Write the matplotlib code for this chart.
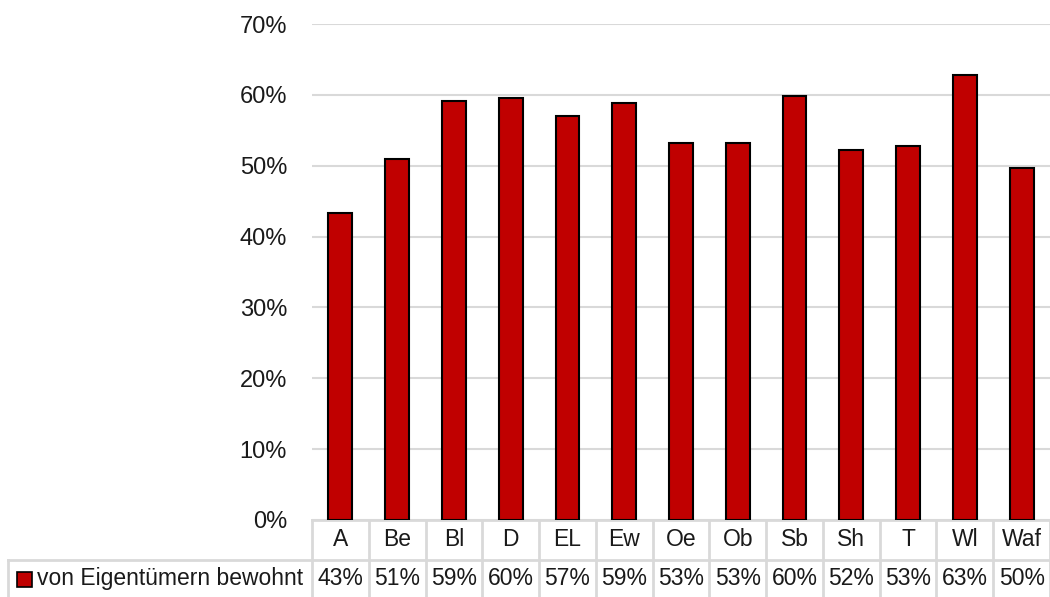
import matplotlib.pyplot as plt
from matplotlib import font_manager
from matplotlib.patches import Rectangle
import matplotlib.transforms as mtransforms

# Daten
categories = ['A', 'Be', 'Bl', 'D', 'EL', 'Ew', 'Oe', 'Ob', 'Sb', 'Sh', 'T', 'Wl', 'Waf']
values = [0.433, 0.509, 0.591, 0.596, 0.570, 0.588, 0.532, 0.532, 0.598, 0.522, 0.528, 0.628, 0.497]
value_labels = ['43%', '51%', '59%', '60%', '57%', '59%', '53%', '53%', '60%', '52%', '53%', '63%', '50%']
series_name = 'von Eigentümern bewohnt'
yticks = [0, 0.1, 0.2, 0.3, 0.4, 0.5, 0.6, 0.7]

names = {f.name for f in font_manager.fontManager.ttflist}
fam = 'Liberation Sans Narrow' if 'Liberation Sans Narrow' in names else 'Liberation Sans'
plt.rcParams['font.family'] = [fam, 'DejaVu Sans']

bar_color = '#c00000'
grid_color = '#d9d9d9'
text_color = '#1a1a1a'
fs = 16.5

fig = plt.figure(figsize=(10.5, 5.97), dpi=100)
ax = fig.add_axes([312 / 1050, 1 - 520 / 597, 738 / 1050, 496 / 597])

x = list(range(len(categories)))
ax.bar(x, values, width=0.42, color=bar_color, edgecolor='black', linewidth=1.5, zorder=3)

ax.set_xlim(-0.5, len(categories) - 0.5)
ax.set_ylim(0, 0.7)
ax.set_yticks(yticks)
ax.set_yticklabels([f'{int(round(v * 100))}%' for v in yticks], fontsize=fs + 0.5, color=text_color)
ax.tick_params(axis='y', length=0, pad=18)
ax.set_xticks([])
ax.grid(axis='y', color=grid_color, linewidth=1.5, zorder=0)
for s in ax.spines.values():
    s.set_visible(False)

# Datentabelle unter dem Diagramm
trans = mtransforms.blended_transform_factory(ax.transData, ax.transAxes)
row_h = 40 / 496
row2 = 37 / 496
y_top = 0
y_mid = -row_h
y_bot = -row_h - row2

line_kw = dict(color=grid_color, linewidth=2, clip_on=False, transform=trans, zorder=1)
ax.plot([-0.5, len(categories) - 0.5], [y_top, y_top], **line_kw)
ax.plot([-0.5, len(categories) - 0.5], [y_mid, y_mid], **line_kw)
for i in range(len(categories) + 1):
    ax.plot([i - 0.5, i - 0.5], [y_top, y_bot], **line_kw)

for i, (c, lab) in enumerate(zip(categories, value_labels)):
    ax.text(i, (y_top + y_mid) / 2, c, ha='center', va='center', fontsize=fs,
            color=text_color, transform=trans)
    ax.text(i, (y_mid + y_bot) / 2, lab, ha='center', va='center', fontsize=fs,
            color=text_color, transform=trans)

# Legendenzelle links
fig_y_mid = 1 - 560 / 597
fig.add_artist(plt.Line2D([8 / 1050, 312 / 1050], [fig_y_mid, fig_y_mid],
                          color=grid_color, linewidth=2))
fig.add_artist(plt.Line2D([8 / 1050, 8 / 1050], [fig_y_mid, 0],
                          color=grid_color, linewidth=2))
fig.add_artist(Rectangle((17 / 1050, 1 - 587 / 597), 15 / 1050, 15 / 597,
                         facecolor=bar_color, edgecolor='black', linewidth=1.2))
fig.text(37 / 1050, 1 - 578 / 597, series_name, ha='left', va='center',
         fontsize=fs, color=text_color)

fig.savefig('out.png', dpi=100)
